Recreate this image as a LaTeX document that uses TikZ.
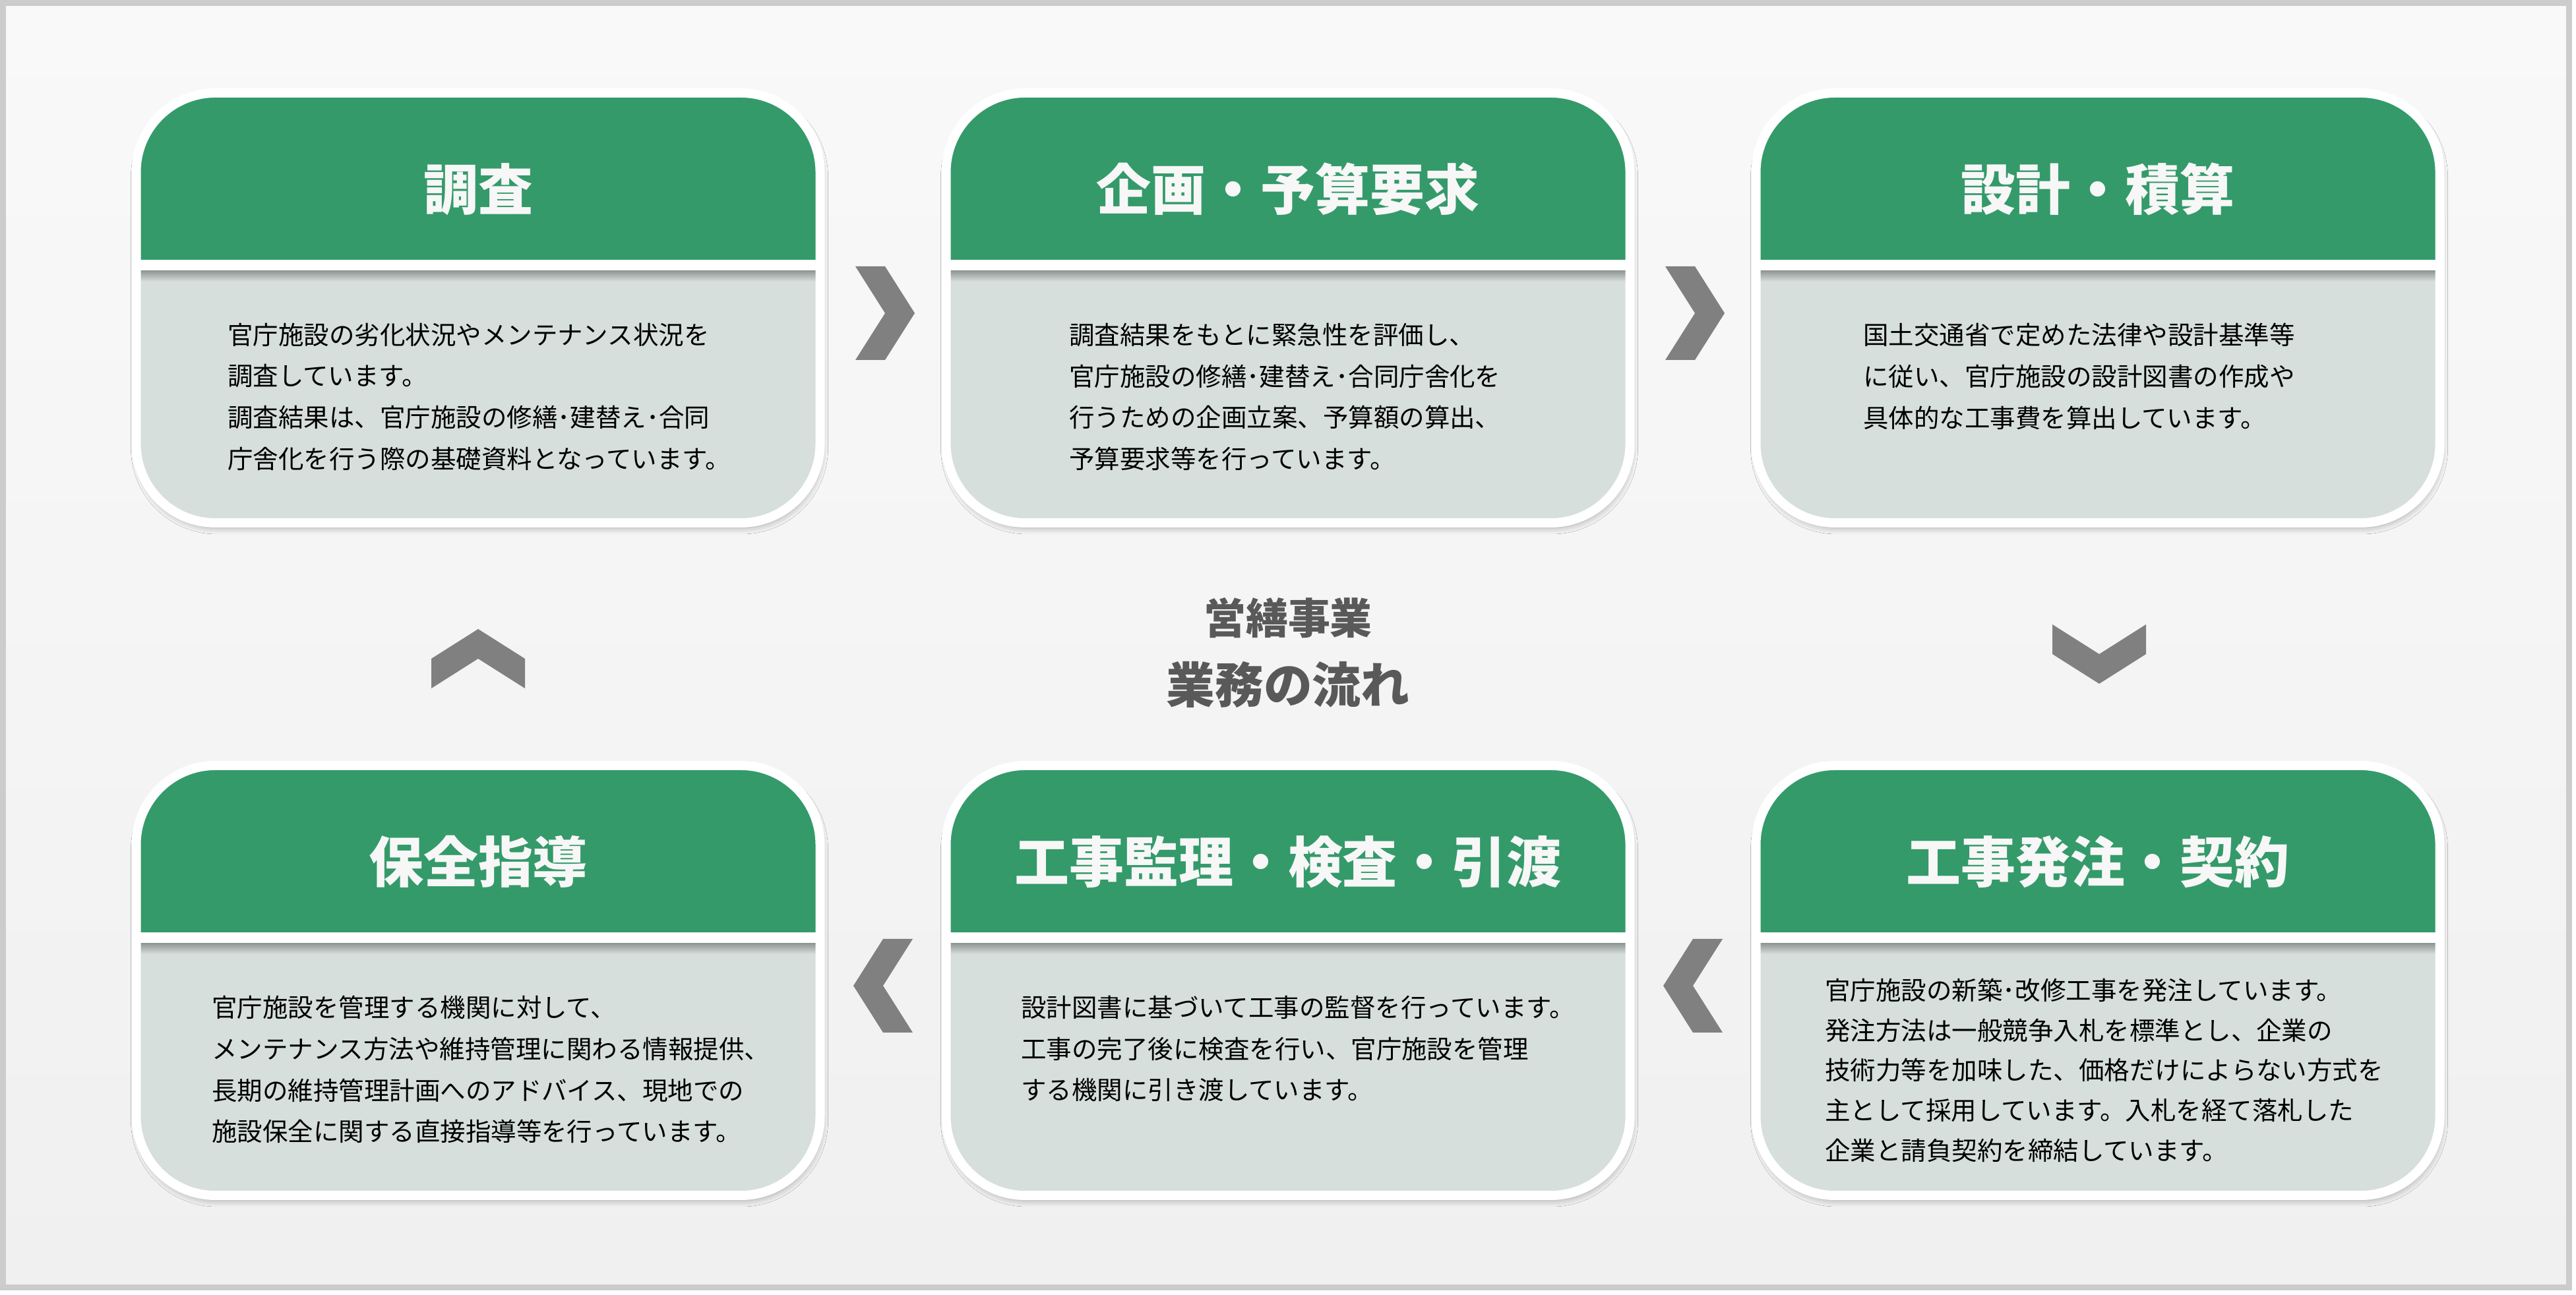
\documentclass[tikz,border=0pt]{standalone}
\usepackage{fontspec}
\setmainfont{Noto Sans CJK JP}
\definecolor{HdrGreen}  {RGB}{52,154,106}
\definecolor{BodyGray}  {RGB}{214,223,219}
\definecolor{ChevGray}  {RGB}{128,128,128}
\definecolor{LabelGray} {RGB}{89,89,89}
\definecolor{FrameGray} {RGB}{204,204,204}
\definecolor{BgTop}     {RGB}{249,249,249}
\definecolor{BgBot}     {RGB}{240,240,240}
\usetikzlibrary{positioning,calc,shadows.blur}

\begin{document}
\begin{tikzpicture}[
  card/.style={draw=white,line width=0.14cm,fill=BodyGray,
               rounded corners=1.2cm,minimum width=10.37cm,
               minimum height=6.52cm,inner sep=0pt,
               blur shadow={shadow xshift=0.02cm,shadow yshift=-0.07cm,
                            shadow blur radius=0.1cm,shadow opacity=35},
               path picture={
                 \fill[HdrGreen,sharp corners] (path picture bounding box.north west)
                   rectangle ([yshift=-2.53cm]path picture bounding box.north east);
                 \fill[white,sharp corners] ([yshift=-2.53cm]path picture bounding box.north west)
                   rectangle ([yshift=-2.70cm]path picture bounding box.north east);
                 \shade[top color=BodyGray!68!black,bottom color=BodyGray,sharp corners]
                   ([yshift=-2.70cm]path picture bounding box.north west)
                   rectangle ([yshift=-2.86cm]path picture bounding box.north east);}},
  ttl/.style={font=\fontsize{23.6}{28}\selectfont\bfseries,text=white!97!black},
  desc/.style={font=\fontsize{10.95}{17.9}\selectfont,align=left,
               anchor=north west,inner sep=0pt},
  chev/.pic={\fill[ChevGray] (-0.45,0.71) -- (0,0.71) -- (0.45,0)
               -- (0,-0.71) -- (-0.45,-0.71) -- (0,0) -- cycle;}]
  \useasboundingbox (0,0) rectangle (39.06,19.63);
  \fill[white] (0,0) rectangle (39.06,19.63);
  \shadedraw[top color=BgTop,bottom color=BgBot,draw=FrameGray,line width=0.09cm]
        (0.045,0.105) rectangle (38.955,19.585);

  % the six steps
  \node[card] (c1) at (7.25,14.96) {};
  \node[card,right=1.77cm of c1] (c2) {};
  \node[card,right=1.77cm of c2] (c3) {};
  \node[card,below=3.54cm of c3] (c6) {};
  \node[card,left=1.77cm of c6] (c5) {};
  \node[card,left=1.77cm of c5] (c4) {};

  \node[ttl] (t1) at ([yshift=-1.53cm]c1.north) {調査};
  \node[ttl] (t2) at ([yshift=-1.53cm]c2.north) {企画・予算要求};
  \node[ttl] (t3) at ([yshift=-1.53cm]c3.north) {設計・積算};
  \node[ttl] (t4) at ([yshift=-1.53cm]c4.north) {保全指導};
  \node[ttl] (t5) at ([yshift=-1.53cm]c5.north) {工事監理・検査・引渡};
  \node[ttl] (t6) at ([yshift=-1.53cm]c6.north) {工事発注・契約};

  \node[desc] (d1) at ([xshift=1.45cm,yshift=-3.55cm]c1.north west)
        {官庁施設の劣化状況やメンテナンス状況を\\
         調査しています。\\
         調査結果は、官庁施設の修繕･建替え･合同\\
         庁舎化を行う際の基礎資料となっています。};
  \node[desc] (d2) at ([xshift=1.93cm,yshift=-3.55cm]c2.north west)
        {調査結果をもとに緊急性を評価し、\\
         官庁施設の修繕･建替え･合同庁舎化を\\
         行うための企画立案、予算額の算出、\\
         予算要求等を行っています。};
  \node[desc] (d3) at ([xshift=1.69cm,yshift=-3.55cm]c3.north west)
        {国土交通省で定めた法律や設計基準等\\
         に従い、官庁施設の設計図書の作成や\\
         具体的な工事費を算出しています。};
  \node[desc] (d4) at ([xshift=1.21cm,yshift=-3.55cm]c4.north west)
        {官庁施設を管理する機関に対して、\\
         メンテナンス方法や維持管理に関わる情報提供、\\
         長期の維持管理計画へのアドバイス、現地での\\
         施設保全に関する直接指導等を行っています。};
  \node[desc] (d5) at ([xshift=1.20cm,yshift=-3.55cm]c5.north west)
        {設計図書に基づいて工事の監督を行っています。\\
         工事の完了後に検査を行い、官庁施設を管理\\
         する機関に引き渡しています。};
  \node[desc,font=\fontsize{10.95}{17.3}\selectfont] (d6)
        at ([xshift=1.11cm,yshift=-3.29cm]c6.north west)
        {官庁施設の新築･改修工事を発注しています。\\
         発注方法は一般競争入札を標準とし、企業の\\
         技術力等を加味した、価格だけによらない方式を\\
         主として採用しています。入札を経て落札した\\
         企業と請負契約を締結しています。};

  % chevrons between the steps
  \coordinate (a12) at ($(c1.east)!0.5!(c2.west)+(0.03,-0.08)$);
  \coordinate (a23) at ($(c2.east)!0.5!(c3.west)+(0.03,-0.08)$);
  \coordinate (a36) at ($(c3.south)!0.5!(c6.north)+(0.02,-0.15)$);
  \coordinate (a65) at ($(c6.west)!0.5!(c5.east)+(0,-0.08)$);
  \coordinate (a54) at ($(c5.west)!0.5!(c4.east)+(0,-0.08)$);
  \coordinate (a41) at ($(c4.north)!0.5!(c1.south)+(0,-0.22)$);
  \pic at (a12) {chev};
  \pic at (a23) {chev};
  \pic[rotate=-90] at (a36) {chev};
  \pic[rotate=180] at (a65) {chev};
  \pic[rotate=180] at (a54) {chev};
  \pic[rotate=90] at (a41) {chev};

  \coordinate (mid) at ($(c2.south)!0.5!(c5.north)$);
  \node[text=LabelGray,font=\fontsize{18.2}{20}\selectfont\bfseries]
        (n1) at ([yshift=0.40cm]mid) {営繕事業};
  \node[text=LabelGray,font=\fontsize{21}{24}\selectfont\bfseries]
        (n2) at ([yshift=-0.61cm]mid) {業務の流れ};
\end{tikzpicture}
\end{document}
